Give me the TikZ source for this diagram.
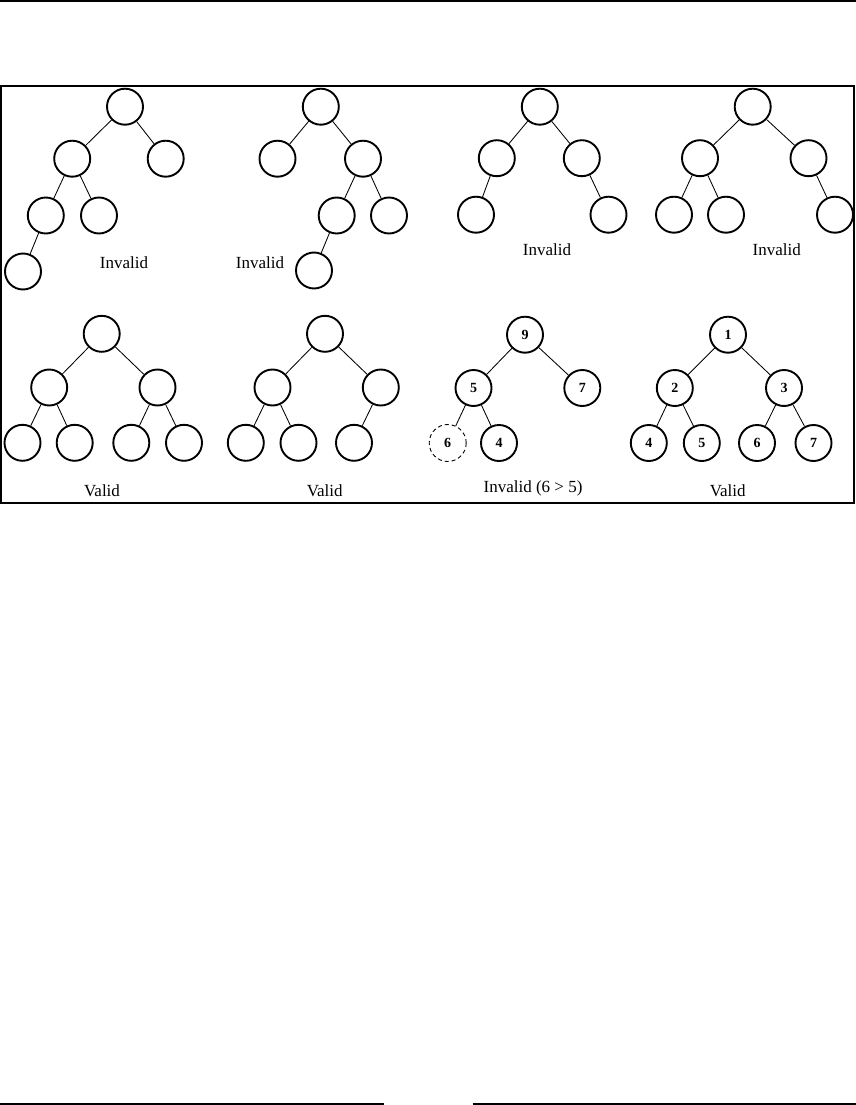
\documentclass[tikz,border=0pt]{standalone}
\usepackage{fontspec}
\setmainfont{Liberation Serif}
\begin{document}
\begin{tikzpicture}[x=1pt,y=-1pt,
  nd/.style={circle,draw,line width=1.9pt,minimum size=36pt,inner sep=0pt,font=\fontsize{14}{16}\selectfont\bfseries},
  ghost/.style={circle,draw,dashed,dash pattern=on 4pt off 3pt,line width=0.9pt,minimum size=37pt,inner sep=0pt,font=\fontsize{14}{16}\selectfont\bfseries},
  edge/.style={line width=0.85pt},
  lbl/.style={font=\fontsize{17}{20}\selectfont,inner sep=0pt},
  rule/.style={line width=2pt}]
\useasboundingbox (0,0) rectangle (856,1105);
% page rules
\coordinate (tl) at (0,1); \coordinate (tr) at (856,1);
\draw[rule] (tl) -- (tr);
\coordinate (bl1) at (0,1103.8); \coordinate (bl2) at (383.5,1103.8);
\coordinate (br1) at (472.5,1103.8); \coordinate (br2) at (856,1103.8);
\draw[line width=1.6pt] (bl1) -- (bl2);
\draw[line width=1.6pt] (br1) -- (br2);
% frame
\coordinate (f1) at (1,86); \coordinate (f2) at (853.5,502.5);
\draw[line width=2pt] (f1) rectangle (f2);

% Tree 1
\node[nd] (a0) at (125,106.7) {};
\node[nd] (a1) at (72.2,158.7) {};
\node[nd] (a2) at (165.7,158.7) {};
\node[nd] (a3) at (45.8,215.5) {};
\node[nd] (a4) at (99,215.5) {};
\node[nd] (a5) at (23,271.5) {};
\draw[edge] (a0)--(a1) (a0)--(a2) (a1)--(a3) (a1)--(a4) (a3)--(a5);
\node[lbl] (ta) at (124,263) {Invalid};

% Tree 2
\node[nd] (b0) at (320.8,106.7) {};
\node[nd] (b1) at (277.5,158.7) {};
\node[nd] (b2) at (363,158.7) {};
\node[nd] (b3) at (336.7,215.5) {};
\node[nd] (b4) at (389,215.5) {};
\node[nd] (b5) at (314,270.5) {};
\draw[edge] (b0)--(b1) (b0)--(b2) (b2)--(b3) (b2)--(b4) (b3)--(b5);
\node[lbl] (tb) at (260,263) {Invalid};

% Tree 3
\node[nd] (c0) at (539.8,106.7) {};
\node[nd] (c1) at (496.8,158.2) {};
\node[nd] (c2) at (581.8,158.2) {};
\node[nd] (c3) at (476,214.7) {};
\node[nd] (c4) at (608.5,214.7) {};
\draw[edge] (c0)--(c1) (c0)--(c2) (c1)--(c3) (c2)--(c4);
\node[lbl] (tc) at (547,250) {Invalid};

% Tree 4
\node[nd] (d0) at (752.7,106.7) {};
\node[nd] (d1) at (700,158.2) {};
\node[nd] (d2) at (808.5,158.2) {};
\node[nd] (d3) at (674,214.7) {};
\node[nd] (d4) at (726,214.7) {};
\node[nd] (d5) at (835,214.7) {};
\draw[edge] (d0)--(d1) (d0)--(d2) (d1)--(d3) (d1)--(d4) (d2)--(d5);
\node[lbl] (td) at (776.8,250) {Invalid};

% Tree 5
\node[nd] (e0) at (101.7,333.8) {};
\node[nd] (e1) at (49.2,387.5) {};
\node[nd] (e2) at (157.5,387.5) {};
\node[nd] (e3) at (22.5,442.8) {};
\node[nd] (e4) at (74.7,442.8) {};
\node[nd] (e5) at (131.3,442.8) {};
\node[nd] (e6) at (184,442.8) {};
\draw[edge] (e0)--(e1) (e0)--(e2) (e1)--(e3) (e1)--(e4) (e2)--(e5) (e2)--(e6);
\node[lbl] (te) at (102,491) {Valid};

% Tree 6
\node[nd] (g0) at (325,333.8) {};
\node[nd] (g1) at (272.5,387.5) {};
\node[nd] (g2) at (380.8,387.5) {};
\node[nd] (g3) at (245.8,442.8) {};
\node[nd] (g4) at (298.5,442.8) {};
\node[nd] (g5) at (354,442.8) {};
\draw[edge] (g0)--(g1) (g0)--(g2) (g1)--(g3) (g1)--(g4) (g2)--(g5);
\node[lbl] (tg) at (324.7,491) {Valid};

% Tree 7
\node[nd] (h0) at (525,334.7) {9};
\node[nd] (h1) at (473.5,388) {5};
\node[nd] (h2) at (582.3,388) {7};
\node[ghost] (h3) at (447.7,443) {6};
\node[nd] (h4) at (499,443) {4};
\draw[edge] (h0)--(h1) (h0)--(h2) (h1)--(h3) (h1)--(h4);
\node[lbl] (th) at (533,488) {Invalid (6 > 5)};

% Tree 8
\node[nd] (k0) at (728,334.7) {1};
\node[nd] (k1) at (674.8,388) {2};
\node[nd] (k2) at (784,388) {3};
\node[nd] (k3) at (648.8,443) {4};
\node[nd] (k4) at (701.8,443) {5};
\node[nd] (k5) at (757,443) {6};
\node[nd] (k6) at (813.5,443) {7};
\draw[edge] (k0)--(k1) (k0)--(k2) (k1)--(k3) (k1)--(k4) (k2)--(k5) (k2)--(k6);
\node[lbl] (tk) at (727.7,491) {Valid};
\end{tikzpicture}
\end{document}
